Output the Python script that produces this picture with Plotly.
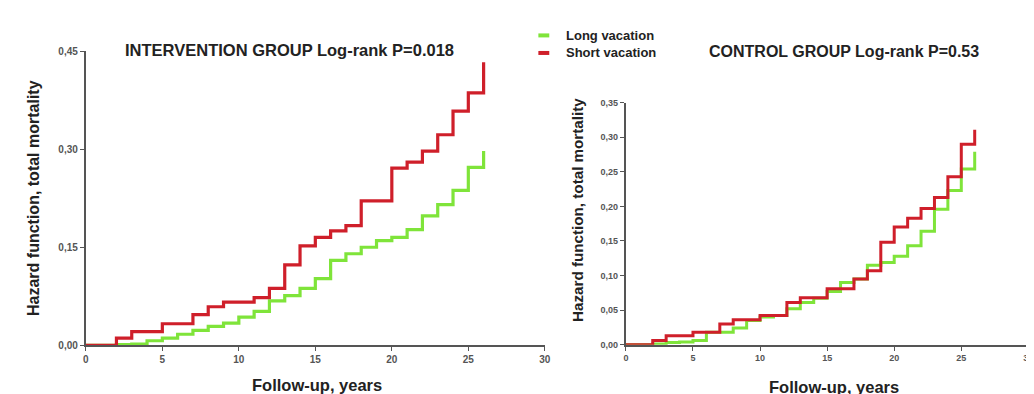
import plotly.graph_objects as go

# Intervention group
int_short_t = [0, 2, 3, 5, 7, 8, 9, 11, 12, 13, 14, 15, 16, 17, 18, 20, 21, 22, 23, 24, 25, 26]
int_short_h = [0, 0.011, 0.021, 0.033, 0.047, 0.059, 0.066, 0.073, 0.087, 0.123, 0.152, 0.165, 0.175, 0.183, 0.221, 0.271, 0.280, 0.297, 0.322, 0.358, 0.386, 0.433]
int_long_t = [0, 2, 3, 4, 5, 6, 7, 8, 9, 10, 11, 12, 13, 14, 15, 16, 17, 18, 19, 20, 21, 22, 23, 24, 25, 26]
int_long_h = [0, 0.001, 0.002, 0.007, 0.011, 0.017, 0.023, 0.029, 0.034, 0.043, 0.052, 0.068, 0.076, 0.087, 0.102, 0.130, 0.140, 0.150, 0.160, 0.165, 0.177, 0.198, 0.215, 0.237, 0.272, 0.297]

# Control group
ctl_short_t = [0, 2, 3, 5, 7, 8, 10, 12, 13, 15, 17, 18, 19, 20, 21, 22, 23, 24, 25, 26]
ctl_short_h = [0, 0.006, 0.013, 0.018, 0.030, 0.036, 0.042, 0.061, 0.068, 0.081, 0.095, 0.107, 0.148, 0.170, 0.183, 0.197, 0.213, 0.243, 0.290, 0.311]
ctl_long_t = [0, 2, 3, 4, 5, 6, 7, 8, 9, 10, 11, 12, 13, 14, 15, 16, 17, 18, 19, 20, 21, 22, 23, 24, 25, 26]
ctl_long_h = [0, 0.001, 0.003, 0.004, 0.006, 0.018, 0.018, 0.024, 0.035, 0.040, 0.042, 0.052, 0.061, 0.067, 0.077, 0.090, 0.095, 0.115, 0.119, 0.128, 0.143, 0.164, 0.196, 0.223, 0.254, 0.279]

series_names = ["Long vacation", "Short vacation"]
green = "#7fe43a"
red = "#cf1f2a"

left_yticks = [0, 0.15, 0.30, 0.45]
left_yticklabels = ["0,00", "0,15", "0,30", "0,45"]
right_yticks = [0, 0.05, 0.10, 0.15, 0.20, 0.25, 0.30, 0.35]
right_yticklabels = ["0,00", "0,05", "0,10", "0,15", "0,20", "0,25", "0,30", "0,35"]
xticks = [0, 5, 10, 15, 20, 25, 30]

W, H = 1034, 394
OFF = 8  # page offset of the figure inside the browser window


def px(x):
    return (x - OFF) / W


def py(y):
    return (H - (y - OFF)) / H


def b(lst):
    return ["<b>" + str(v) + "</b>" for v in lst]


fig = go.Figure()
fig.add_trace(go.Scatter(x=int_long_t, y=int_long_h, mode="lines", line=dict(shape="hv", color=green, width=3.2),
                         xaxis="x", yaxis="y", showlegend=False))
fig.add_trace(go.Scatter(x=int_short_t, y=int_short_h, mode="lines", line=dict(shape="hv", color=red, width=3.2),
                         xaxis="x", yaxis="y", showlegend=False))
fig.add_trace(go.Scatter(x=ctl_long_t, y=ctl_long_h, mode="lines", line=dict(shape="hv", color=green, width=3),
                         xaxis="x2", yaxis="y2", showlegend=False))
fig.add_trace(go.Scatter(x=ctl_short_t, y=ctl_short_h, mode="lines", line=dict(shape="hv", color=red, width=3),
                         xaxis="x2", yaxis="y2", showlegend=False))

tickfont = dict(family="Liberation Sans, Arial", size=10, color="#555")
tickfont2 = dict(family="Liberation Sans, Arial", size=9, color="#555")
axcol = "#555"

fig.update_layout(
    width=W, height=H, margin=dict(l=0, r=0, t=0, b=0),
    paper_bgcolor="white", plot_bgcolor="white",
    xaxis=dict(domain=[px(83.5), px(546.5)], range=[0, 30], tickvals=xticks, ticktext=b(xticks),
               showgrid=False, zeroline=False, showline=True, linecolor=axcol, linewidth=2,
               ticks="outside", ticklen=4, tickcolor=axcol, tickfont=tickfont, anchor="y"),
    yaxis=dict(domain=[py(349), py(47)], range=[0, 0.45], tickvals=left_yticks, ticktext=b(left_yticklabels),
               showgrid=False, zeroline=False, showline=True, linecolor=axcol, linewidth=2,
               ticks="outside", ticklen=4, tickcolor=axcol, tickfont=tickfont, anchor="x"),
    xaxis2=dict(domain=[px(628.3), px(1034.3)], range=[0, 30], tickvals=xticks, ticktext=b(xticks),
                showgrid=False, zeroline=False, showline=True, linecolor=axcol, linewidth=2,
                ticks="outside", ticklen=4, tickcolor=axcol, tickfont=tickfont2, anchor="y2"),
    yaxis2=dict(domain=[py(348.3), py(100)], range=[0, 0.35], tickvals=right_yticks, ticktext=b(right_yticklabels),
                showgrid=False, zeroline=False, showline=True, linecolor=axcol, linewidth=2,
                ticks="outside", ticklen=4, tickcolor=axcol, tickfont=tickfont2, anchor="x2"),
)

bold = dict(family="Liberation Sans, Arial", color="#222")
ann = []
ann.append(dict(text="<b>INTERVENTION GROUP Log-rank P=0.018</b>", x=px(288.5), y=py(46), xref="paper", yref="paper",
                showarrow=False, xanchor="center", yanchor="middle", font=dict(size=16.5, **bold)))
ann.append(dict(text="<b>CONTROL GROUP Log-rank P=0.53</b>", x=px(848.5), y=py(47), xref="paper", yref="paper",
                showarrow=False, xanchor="center", yanchor="middle", font=dict(size=16, **bold)))
ann.append(dict(text="<b>Follow-up, years</b>", x=px(317), y=py(390), xref="paper", yref="paper",
                showarrow=False, xanchor="center", yanchor="middle", font=dict(size=16.5, **bold)))
ann.append(dict(text="<b>Follow-up, years</b>", x=px(838), y=py(392), xref="paper", yref="paper",
                showarrow=False, xanchor="center", yanchor="middle", font=dict(size=16.5, **bold)))
ann.append(dict(text="<b>Hazard function, total mortality</b>", x=px(30), y=py(198), xref="paper", yref="paper",
                showarrow=False, xanchor="center", yanchor="middle", textangle=-90, font=dict(size=16, **bold)))
ann.append(dict(text="<b>Hazard function, total mortality</b>", x=px(580), y=py(210), xref="paper", yref="paper",
                showarrow=False, xanchor="center", yanchor="middle", textangle=-90, font=dict(size=15.2, **bold)))

shapes = []
for i, (name, col) in enumerate(zip(series_names, [green, red])):
    yy = 31 + 18 * i
    shapes.append(dict(type="line", xref="paper", yref="paper", x0=px(540), x1=px(551), y0=py(yy), y1=py(yy),
                       line=dict(color=col, width=4)))
    ann.append(dict(text="<b>" + name + "</b>", x=px(566), y=py(yy), xref="paper", yref="paper",
                    showarrow=False, xanchor="left", yanchor="middle", font=dict(size=13, **bold)))

fig.update_layout(annotations=ann, shapes=shapes)
fig.write_html("out.html")
